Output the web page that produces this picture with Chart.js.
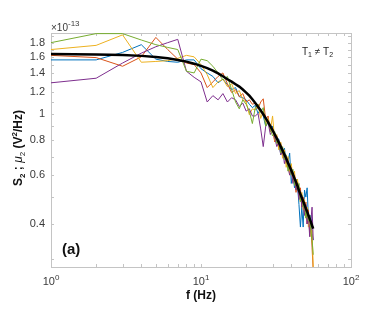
<!DOCTYPE html>
<html>
<head>
<meta charset="utf-8">
<script src="https://cdn.jsdelivr.net/npm/chart.js@4.4.1/dist/chart.umd.min.js"></script>
<style>
  html, body { margin: 0; padding: 0; background: #fff; }
</style>
</head>
<body>
<canvas id="psd" width="390" height="314"></canvas>
<script>
// frequencies (Hz) and spectra, in units of 1e-13 V^2/Hz
const freqs = [1,2,3,4,5,6,7,8,9,10,11,12,13,14,15,16,17,18,19,20,21,22,23,24,25,26,27,28,
    29,30,31,32,33,34,35,36,37,38,39,40,41,42,43,44,45,46,47,48,49,50,51,52,53,54,55,56];

const blueRun = [1.56,1.56,1.66,1.77,1.57,1.54,1.53,1.56,1.56,1.45,
    1.40,1.36,1.29,1.33,1.27,1.22,1.24,1.15,1.14,1.12,1.08,1.05,1.07,1.00,1.04,0.98,0.90,0.93,
    0.87,0.90,0.80,0.81,0.81,0.71,0.73,0.75,0.66,0.67,0.72,0.56,0.61,0.54,0.58,
    0.55,0.47,0.39,0.46,0.39,0.53,0.50,0.54,0.42,0.38,0.43,0.37,0.35];
const orangeRun = [1.62,1.59,1.48,1.60,1.88,1.70,1.57,1.52,1.50,1.40,
    1.24,1.30,1.36,1.40,1.28,1.19,1.22,1.15,1.18,1.10,1.12,1.08,1.09,1.04,1.10,1.13,0.95,0.98,
    0.86,0.88,0.79,0.83,0.75,0.78,0.70,0.72,0.66,0.68,0.61,0.64,0.57,0.60,0.52,0.57,0.50,0.54,
    0.46,0.50,0.43,0.48,0.40,0.45,0.37,0.40,0.33,0.27];
const yellowRun = [1.70,1.76,1.92,1.53,1.54,1.55,1.58,1.62,1.60,1.50,
    1.38,1.24,1.30,1.33,1.25,1.28,1.18,1.21,1.12,1.10,0.99,1.04,1.03,1.08,0.96,1.02,0.92,0.96,
    0.87,0.98,0.80,0.84,0.74,0.79,0.69,0.74,0.64,0.70,0.60,0.66,0.58,0.62,0.54,0.58,0.51,0.48,
    0.52,0.45,0.49,0.42,0.46,0.39,0.43,0.36,0.38,0.28];
const purpleRun = [1.29,1.34,1.52,1.65,1.74,1.80,1.85,1.42,1.35,1.30,
    1.10,1.16,1.12,1.18,1.10,1.14,1.12,1.06,1.09,1.02,1.04,0.98,0.98,1.00,0.88,0.76,0.90,0.93,
    0.84,0.87,0.82,0.76,0.79,0.71,0.74,0.66,0.70,0.64,0.60,0.63,0.56,0.59,0.53,0.55,0.49,0.52,
    0.46,0.49,0.43,0.47,0.40,0.44,0.36,0.41,0.46,0.35];
const greenRun = [1.80,1.94,1.94,1.84,1.77,1.73,1.70,1.42,1.40,1.57,
    1.55,1.48,1.40,1.32,1.36,1.22,1.10,1.04,1.12,1.08,1.02,0.92,1.05,1.08,1.01,1.05,0.90,0.94,
    0.88,0.83,0.86,0.78,0.80,0.72,0.76,0.68,0.71,0.62,0.66,0.60,0.63,0.55,0.58,0.53,0.56,0.48,
    0.51,0.46,0.48,0.42,0.45,0.41,0.43,0.38,0.35,0.31];
const fitCurve = [1.638,1.633,1.625,1.613,1.598,1.581,1.560,1.538,1.512,1.485,1.457,1.426,
    1.395,1.362,1.329,1.303,1.275,1.250,1.220,1.190,1.160,1.125,1.092,1.058,1.026,0.994,0.962,
    0.931,0.901,0.871,0.842,0.814,0.787,0.760,0.735,0.711,0.688,0.665,0.644,0.623,0.604,0.584,
    0.566,0.548,0.528,0.512,0.497,0.483,0.469,0.455,0.443,0.430,0.418,0.407,0.395,0.385];

const xMajor = [1, 10, 100];
const xMajorExp = ["0", "1", "2"];
const xMinor = [2,3,4,5,6,7,8,9,20,30,40,50,60,70,80,90];
const yTicks = [0.4, 0.6, 0.8, 1, 1.2, 1.4, 1.6, 1.8];
const yTickLabels = ["0.4", "0.6", "0.8", "1", "1.2", "1.4", "1.6", "1.8"];
const yMinor = [0.3, 0.5, 0.7, 0.9, 1.1, 1.3, 1.5, 1.7, 1.9];

const FONT = '"Liberation Sans", Arial, sans-serif';
const AXIS_GRAY = "#c4c4c4";
const TEXT_GRAY = "#3a3a3a";

const toPoints = vals => freqs.map((f, i) => ({ x: f, y: vals[i] }));

// draws pieces of text with own font and baseline shift, one after another
function drawRuns(ctx, x, y, runs, align) {
    let total = 0;
    runs.forEach(r => { ctx.font = r[1]; total += ctx.measureText(r[0]).width; });
    let cx = x;
    if (align === "center") cx = x - total / 2;
    if (align === "right") cx = x - total;
    ctx.textAlign = "left";
    runs.forEach(r => {
        ctx.font = r[1];
        ctx.fillText(r[0], cx, y + (r[2] || 0));
        cx += ctx.measureText(r[0]).width;
    });
}

const axesBox = {
    id: "axesBox",
    beforeDatasetsDraw(chart) {
        const { ctx, chartArea: a, scales: { x, y } } = chart;
        const len = 3;
        ctx.save();
        ctx.strokeStyle = AXIS_GRAY;
        ctx.lineWidth = 1;
        ctx.strokeRect(a.left + 0.5, a.top + 0.5, a.right - a.left, a.bottom - a.top);
        ctx.beginPath();
        xMajor.concat(xMinor).forEach(v => {
            const px = Math.round(x.getPixelForValue(v)) + 0.5;
            ctx.moveTo(px, a.bottom); ctx.lineTo(px, a.bottom - len);
            ctx.moveTo(px, a.top); ctx.lineTo(px, a.top + len);
        });
        yTicks.concat(yMinor).forEach(v => {
            const py = Math.round(y.getPixelForValue(v)) + 0.5;
            ctx.moveTo(a.left, py); ctx.lineTo(a.left + len, py);
            ctx.moveTo(a.right, py); ctx.lineTo(a.right - len, py);
        });
        ctx.stroke();
        ctx.restore();
    },
    afterDraw(chart) {
        const { ctx, chartArea: a, scales: { x, y } } = chart;
        ctx.save();
        ctx.fillStyle = TEXT_GRAY;
        ctx.textBaseline = "alphabetic";

        // y tick labels
        ctx.font = "11px " + FONT;
        ctx.textAlign = "right";
        ctx.textBaseline = "middle";
        yTicks.forEach((v, i) => {
            ctx.fillText(yTickLabels[i], a.left - 6, y.getPixelForValue(v));
        });
        ctx.textBaseline = "alphabetic";

        // x tick labels 10^n
        xMajor.forEach((v, i) => {
            drawRuns(ctx, x.getPixelForValue(v), a.bottom + 18,
                [["10", "11px " + FONT], [xMajorExp[i], "8px " + FONT, -5]], "center");
        });

        // exponent of the y axis
        drawRuns(ctx, a.left, a.top - 2,
            [["\u00d710", "10px " + FONT], ["-13", "8px " + FONT, -5]], "left");

        // T1 != T2
        ctx.fillStyle = "#222";
        drawRuns(ctx, 302, 55, [
            ["T", "10px " + FONT], ["1", "7px " + FONT, 2], [" \u2260 T", "10px " + FONT],
            ["2", "7px " + FONT, 2]
        ], "left");

        // panel tag
        ctx.fillStyle = "#111";
        ctx.font = "bold 15px " + FONT;
        ctx.textAlign = "left";
        ctx.fillText("(a)", 62, 254);

        // x title
        ctx.font = "bold 12px " + FONT;
        ctx.textAlign = "center";
        ctx.fillText("f (Hz)", (a.left + a.right) / 2, 299);

        // y title, rotated
        ctx.translate(22, 148);
        ctx.rotate(-Math.PI / 2);
        drawRuns(ctx, 0, 0, [
            ["S", "bold 12px " + FONT], ["2", "bold 8px " + FONT, 3],
            [" ; ", "bold 12px " + FONT], ["\u03bc", "italic 12px " + FONT],
            ["2", "8px " + FONT, 3], [" (V", "bold 12px " + FONT],
            ["2", "bold 8px " + FONT, -5], ["/Hz)", "bold 12px " + FONT]
        ], "center");
        ctx.restore();
    }
};

const line = (vals, color, width) => ({
    data: toPoints(vals),
    borderColor: color,
    borderWidth: width,
    pointRadius: 0,
    tension: 0,
    fill: false
});

new Chart(document.getElementById("psd"), {
    type: "line",
    data: {
        datasets: [
            line(fitCurve, "#000000", 2.5),
            line(greenRun, "#77AC30", 1),
            line(purpleRun, "#7E2F8E", 1),
            line(yellowRun, "#EDB120", 1),
            line(orangeRun, "#D95319", 1),
            line(blueRun, "#0072BD", 1)
        ]
    },
    options: {
        responsive: false,
        animation: false,
        devicePixelRatio: 1,
        layout: { padding: { left: 51, right: 39, top: 33, bottom: 47 } },
        plugins: { legend: { display: false }, tooltip: { enabled: false } },
        scales: {
            x: { type: "logarithmic", min: 1, max: 100, display: false },
            y: { type: "logarithmic", min: 0.28, max: 1.95, display: false }
        }
    },
    plugins: [axesBox]
});
</script>
</body>
</html>
